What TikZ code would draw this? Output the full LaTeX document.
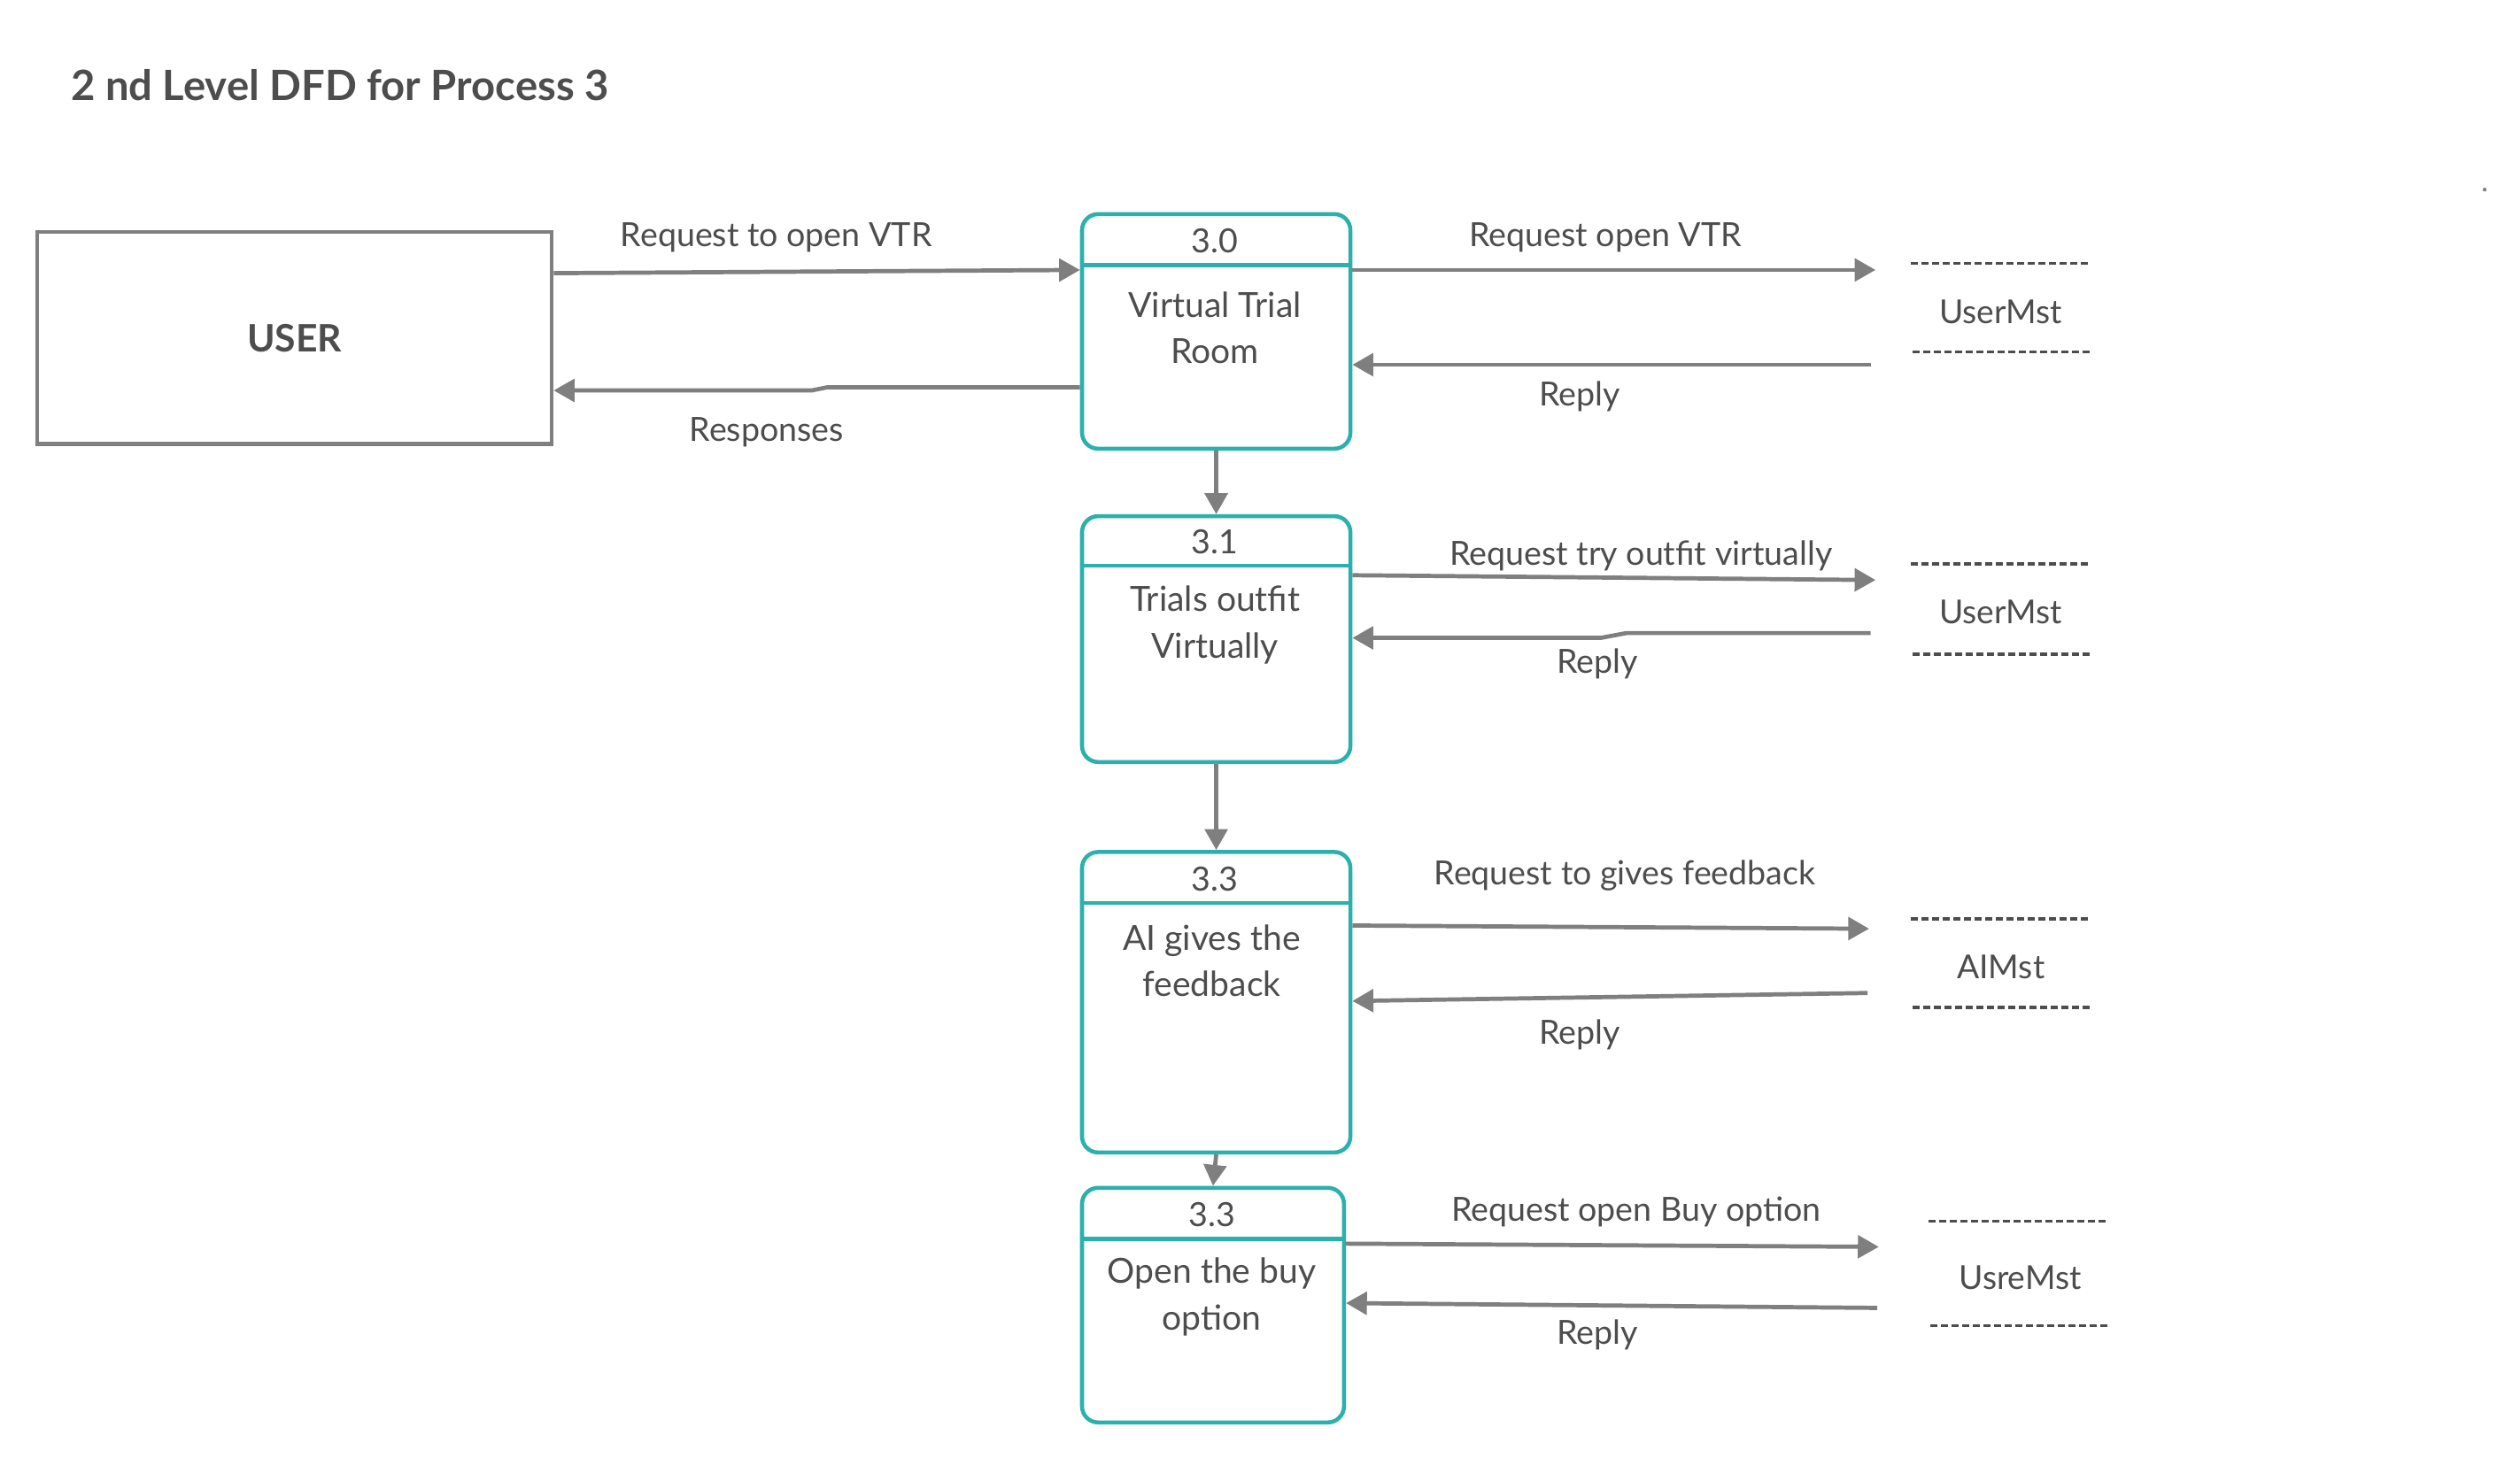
\documentclass[tikz,border=0pt]{standalone}
\usepackage{fontspec}
\setmainfont{Lato}
\usetikzlibrary{arrows.meta}
\definecolor{tealc}{HTML}{2BB0AD}
\definecolor{lgray}{HTML}{7F7F7F}
\definecolor{tgray}{HTML}{4D4D4D}
\begin{document}
\begin{tikzpicture}[x=1pt,y=-1pt,
  flow/.style={draw=lgray,line width=2.6pt,-{Triangle[length=13pt,width=14pt]}},
  proc/.style={draw=tealc,line width=2.5pt,rounded corners=10pt,anchor=north west,inner sep=0pt,minimum width=167pt},
  divider/.style={draw=tealc,line width=2.5pt},
  lbl/.style={text=tgray,font=\fontsize{20.7}{24}\selectfont,inner sep=1pt},
  ptext/.style={text=tgray,font=\fontsize{21.5}{29}\selectfont,align=center,inner sep=1pt},
  store/.style={text=tgray,font=\fontsize{20.5}{24}\selectfont,inner sep=1pt},
  storeline/.style={draw=tgray,line width=2pt,dash pattern=on 4.6pt off 2pt}]
\useasboundingbox (0,0) rectangle (1568,907);
\fill[white] (0,0) rectangle (1568,907);

% title
\node[anchor=west,text=tgray,font=\fontsize{26}{31}\selectfont\bfseries,inner sep=0pt] (title) at (44,53) {2 nd Level DFD for Process 3};

% external entity
\node[draw=lgray,line width=2.5pt,minimum width=320pt,minimum height=132pt,anchor=north west,inner sep=0pt,
      text=tgray,font=\fontsize{23.5}{27}\selectfont\bfseries] (user) at (22,143) {USER};

% processes
\node[proc,minimum height=146pt] (p0) at (672,132) {};
\draw[divider] (p0.west |- 0,165) -- (p0.east |- 0,165);
\node[lbl] (p0n) at (756,150) {3.0};
\node[ptext] (p0t) at (756,204) {Virtual Trial\\Room};

\node[proc,minimum height=153pt] (p1) at (672,320) {};
\draw[divider] (p1.west |- 0,352) -- (p1.east |- 0,352);
\node[lbl] (p1n) at (756,337) {3.1};
\node[ptext] (p1t) at (756,389) {Trials outfit\\Virtually};

\node[proc,minimum height=187pt] (p2) at (672,529) {};
\draw[divider] (p2.west |- 0,562) -- (p2.east |- 0,562);
\node[lbl] (p2n) at (756,547) {3.3};
\node[ptext] (p2t) at (754,598) {AI gives the\\feedback};

\node[proc,minimum width=163pt,minimum height=146pt] (p3) at (672,738) {};
\draw[divider] (p3.west |- 0,771) -- (p3.east |- 0,771);
\node[lbl] (p3n) at (754,756) {3.3};
\node[ptext] (p3t) at (754,807) {Open the buy\\option};

% data stores
\node[store] (s0) at (1245,194) {UserMst};
\draw[storeline] (1189,164) -- (1300,164);
\draw[storeline] (1190,219) -- (1301,219);
\node[store] (s1) at (1245,381) {UserMst};
\draw[storeline] (1189,351) -- (1300,351);
\draw[storeline] (1190,407) -- (1301,407);
\node[store] (s2) at (1245,602) {AIMst};
\draw[storeline] (1189,572) -- (1300,572);
\draw[storeline] (1190,627) -- (1301,627);
\node[store] (s3) at (1257,795) {UsreMst};
\draw[storeline] (1200,760) -- (1311,760);
\draw[storeline] (1201,825) -- (1312,825);

% connector end points near stores
\coordinate (s0in) at (1167,168);
\coordinate (s0out) at (1164,227);
\coordinate (s1in) at (1167,361);
\coordinate (s1out) at (1164,394);
\coordinate (s2in) at (1163,578);
\coordinate (s2out) at (1162,618);
\coordinate (s3in) at (1169,776);
\coordinate (s3out) at (1168,814);

% flows user <-> 3.0
\draw[flow] (user.east |- 0,170) -- (p0.west |- 0,168);
\node[lbl] (l1) at (483,148) {Request to open VTR};
\draw[flow] (p0.west |- 0,241) -- (515,241) -- (505,243) -- (user.east |- 0,243);
\node[lbl] (l2) at (477,269) {Responses};

% 3.0 <-> store
\draw[flow] (p0.east |- 0,168) -- (s0in);
\node[lbl] (l3) at (999,148) {Request open VTR};
\draw[flow] (s0out) -- (p0.east |- 0,227);
\node[lbl] (l4) at (983,247) {Reply};

% 3.1 <-> store
\draw[flow] (p1.east |- 0,358) -- (s1in);
\node[lbl] (l5) at (1021,346) {Request try outfit virtually};
\draw[flow] (s1out) -- (1012,394) -- (996,397) -- (p1.east |- 0,397);
\node[lbl] (l6) at (994,413) {Reply};

% 3.3 <-> store
\draw[flow] (p2.east |- 0,576) -- (s2in);
\node[lbl] (l7) at (1011,545) {Request to gives feedback};
\draw[flow] (s2out) -- (p2.east |- 0,623);
\node[lbl] (l8) at (983,644) {Reply};

% 3.3 (buy) <-> store
\draw[flow] (p3.east |- 0,774) -- (s3in);
\node[lbl] (l9) at (1018,754) {Request open Buy option};
\draw[flow] (s3out) -- (p3.east |- 0,811);
\node[lbl] (l10) at (994,831) {Reply};

% process chain
\draw[flow] (p0.south) -- (p1.north);
\draw[flow] (p1.south) -- (p2.north);
\draw[flow] (p2.south) -- (p3.north);

% stray dot
\fill[lgray] (1546,118) circle (1.2pt);
\end{tikzpicture}
\end{document}
